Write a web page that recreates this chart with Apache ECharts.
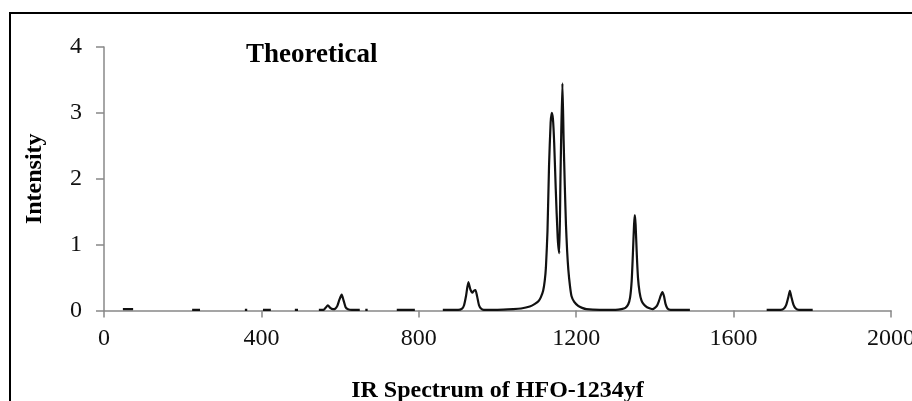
<!DOCTYPE html>
<html>
<head>
<meta charset="utf-8">
<script src="https://cdn.jsdelivr.net/npm/echarts@6/dist/echarts.min.js"></script>
<style>
  html, body { margin: 0; padding: 0; background: #fff; }
  #chart { width: 912px; height: 401px; }
</style>
</head>
<body>
<div id="chart"></div>
<script>
// 轴刻度
const xTicks = [0, 400, 800, 1200, 1600, 2000];
const yTicks = [0, 1, 2, 3, 4];

// 各段光谱 (wavenumber / intensity)
const seg1X = [48, 61, 74];
const seg1Y = [0.02, 0.02, 0.02];
const seg2X = [224, 244];
const seg2Y = [0.01, 0.01];
const seg3X = [358, 364];
const seg3Y = [0.01, 0.01];
const seg4X = [404, 424];
const seg4Y = [0.01, 0.01];
const seg5X = [485, 493];
const seg5Y = [0.01, 0.01];
const seg6X = [546, 558, 563, 569, 575, 582, 588, 593, 598, 604, 609, 614, 620, 630, 650];
const seg6Y = [0.01, 0.01, 0.04, 0.08, 0.04, 0.02, 0.03, 0.07, 0.16, 0.24, 0.15, 0.05, 0.02, 0.01, 0.01];
const seg7X = [664, 670];
const seg7Y = [0.01, 0.01];
const seg8X = [744, 790];
const seg8Y = [0.01, 0.01];
const seg9X = [861, 900, 910, 915, 920, 926, 931, 936, 940, 944, 948, 953, 958, 965, 1000, 1040, 1060,
  1082, 1095, 1104, 1110, 1116, 1120, 1123, 1127, 1131, 1135, 1138, 1141, 1144, 1148, 1153, 1157, 1160,
  1162, 1165, 1168, 1171, 1174, 1177, 1180, 1184, 1188, 1195, 1205, 1215, 1226, 1260, 1300, 1315, 1325,
  1332, 1337, 1341, 1344, 1347, 1349, 1351, 1354, 1357, 1361, 1366, 1372, 1380, 1388, 1394, 1400, 1405,
  1410, 1415, 1419, 1423, 1427, 1432, 1440, 1460, 1489];
const seg9Y = [0.01, 0.01, 0.03, 0.08, 0.22, 0.43, 0.32, 0.27, 0.30, 0.31, 0.22, 0.08, 0.03, 0.01, 0.01, 0.02, 0.03,
  0.06, 0.10, 0.14, 0.20, 0.30, 0.45, 0.65, 1.20, 2.20, 2.85, 3.00, 2.90, 2.55, 1.85, 1.10, 0.87, 2.00,
  2.70, 3.45, 2.60, 1.90, 1.30, 0.90, 0.62, 0.38, 0.22, 0.13, 0.07, 0.04, 0.02, 0.01, 0.01, 0.02, 0.04,
  0.09, 0.20, 0.45, 0.85, 1.30, 1.45, 1.30, 0.85, 0.50, 0.28, 0.15, 0.09, 0.05, 0.03, 0.02, 0.04, 0.07,
  0.14, 0.23, 0.28, 0.22, 0.10, 0.03, 0.01, 0.01, 0.01];
const seg10X = [1684, 1720, 1728, 1734, 1739, 1743, 1747, 1752, 1758, 1766, 1801];
const seg10Y = [0.01, 0.01, 0.03, 0.09, 0.20, 0.30, 0.20, 0.09, 0.03, 0.01, 0.01];

const segments = [
  [seg1X, seg1Y], [seg2X, seg2Y], [seg3X, seg3Y], [seg4X, seg4Y], [seg5X, seg5Y],
  [seg6X, seg6Y], [seg7X, seg7Y], [seg8X, seg8Y], [seg9X, seg9Y], [seg10X, seg10Y],
];

const serif = "Liberation Serif";
const chart = echarts.init(document.getElementById("chart"));

chart.setOption({
  animation: false,
  backgroundColor: "#fff",
  grid: { left: 104, right: 21, top: 47, bottom: 90.5, containLabel: false, outerBoundsMode: "none" },
  graphic: [
    {
      type: "rect",
      shape: { x: 10, y: 13, width: 1000, height: 600 },
      style: { fill: "none", stroke: "#000", lineWidth: 2 },
      silent: true,
    },
    {
      type: "text",
      left: 246,
      top: 42,
      style: { text: "Theoretical", font: "bold 27px " + serif, fill: "#000" },
    },
  ],
  xAxis: {
    type: "value",
    min: xTicks[0],
    max: xTicks[xTicks.length - 1],
    interval: 400,
    name: "IR Spectrum of HFO-1234yf",
    nameLocation: "middle",
    nameGap: 68,
    nameTextStyle: { fontFamily: serif, fontWeight: "bold", fontSize: 24, color: "#000" },
    axisLine: { lineStyle: { color: "#888", width: 1.5 } },
    axisTick: { show: true, length: 7, lineStyle: { color: "#888", width: 1.5 } },
    axisLabel: {
      fontFamily: serif, fontSize: 24, color: "#111", margin: 16,
      formatter: (v) => String(v),
    },
    splitLine: { show: false },
  },
  yAxis: {
    type: "value",
    min: yTicks[0],
    max: yTicks[yTicks.length - 1],
    interval: 1,
    name: "Intensity",
    nameLocation: "middle",
    nameGap: 57,
    nameRotate: 90,
    nameTextStyle: { fontFamily: serif, fontWeight: "bold", fontSize: 24, color: "#000" },
    axisLine: { show: true, lineStyle: { color: "#888", width: 1.5 } },
    axisTick: { show: true, length: 8, lineStyle: { color: "#888", width: 1.5 } },
    axisLabel: { fontFamily: serif, fontSize: 24, color: "#111", margin: 22 },
    splitLine: { show: false },
  },
  series: segments.map(([xs, ys]) => ({
    type: "line",
    data: xs.map((x, i) => [x, ys[i]]),
    showSymbol: false,
    smooth: 0.2,
    lineStyle: { color: "#111", width: 2.2 },
  })),
});
</script>
</body>
</html>
